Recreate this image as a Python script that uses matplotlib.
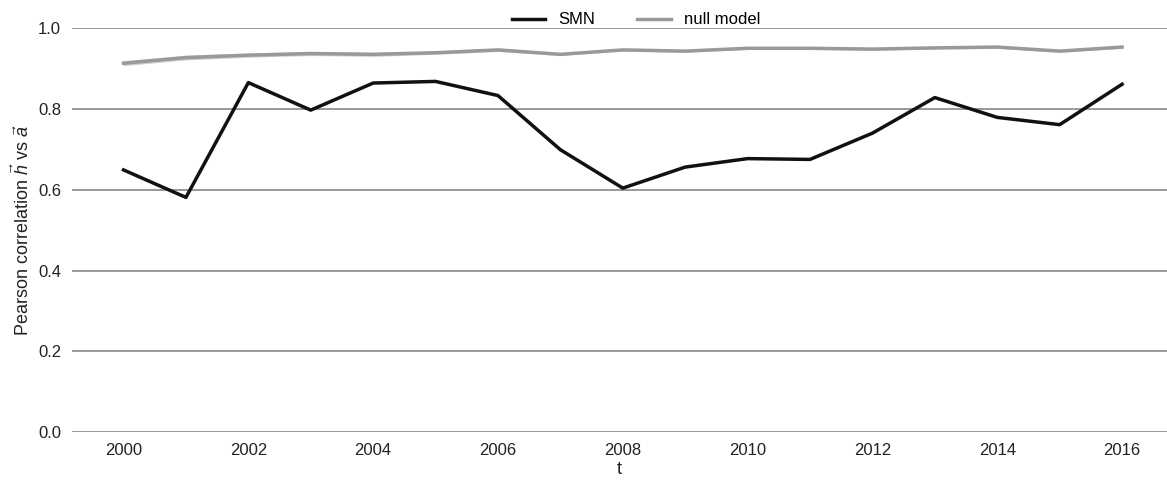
import matplotlib
matplotlib.use('Agg')
import matplotlib.pyplot as plt
import numpy as np

plt.rcParams['font.family'] = ['Liberation Sans', 'DejaVu Sans']
plt.rcParams['mathtext.fontset'] = 'custom'
plt.rcParams['mathtext.it'] = 'Liberation Sans:italic'
plt.rcParams['mathtext.rm'] = 'Liberation Sans'

# data
years = np.arange(2000, 2017)
smn = [0.649, 0.581, 0.865, 0.797, 0.864, 0.868, 0.833, 0.699, 0.604,
       0.656, 0.677, 0.675, 0.740, 0.828, 0.779, 0.761, 0.861]
null_model = [0.913, 0.927, 0.933, 0.937, 0.935, 0.939, 0.946, 0.935, 0.946,
              0.943, 0.950, 0.950, 0.948, 0.951, 0.953, 0.943, 0.953]
null_spread = [0.006, 0.006, 0.005, 0.005, 0.005, 0.004, 0.004, 0.003, 0.003,
               0.003, 0.003, 0.003, 0.003, 0.003, 0.003, 0.003, 0.003]

fig = plt.figure(figsize=(11.67, 4.84), dpi=100)
ax = fig.add_axes([0.062, 0.107, 0.938, 0.835])

null = np.array(null_model)
spread = np.array(null_spread)
ax.fill_between(years, null - spread, null + spread, color='#cfcfcf', lw=0, zorder=2)
ax.plot(years, null, color='#999999', lw=2.5, label='null model', zorder=3)
ax.plot(years, smn, color='#111111', lw=2.5, label='SMN', zorder=4)

ax.set_xlim(1999.18, 2016.72)
ax.set_ylim(0, 1.0)
ax.set_xticks(np.arange(2000, 2017, 2))
ax.set_yticks(np.arange(0, 1.01, 0.2))
ax.set_yticklabels(['0.0', '0.2', '0.4', '0.6', '0.8', '1.0'])
ax.grid(axis='y', color='#888888', lw=1.2)
ax.set_axisbelow(True)
for s in ax.spines.values():
    s.set_visible(False)
ax.tick_params(length=0, labelsize=12, colors='#222222', pad=8)
ax.set_xlabel('t', fontsize=13, color='#222222', labelpad=2)
ax.set_ylabel(r'Pearson correlation $\vec{h}$ vs $\vec{a}$', fontsize=13, color='#222222')

h, l = ax.get_legend_handles_labels()
ax.legend([h[1], h[0]], [l[1], l[0]], loc='lower center', bbox_to_anchor=(0.515, 0.985),
          ncol=2, frameon=False, fontsize=12, handlelength=2.0, columnspacing=2.5,
          borderaxespad=0)

fig.savefig('out.png', dpi=100)
